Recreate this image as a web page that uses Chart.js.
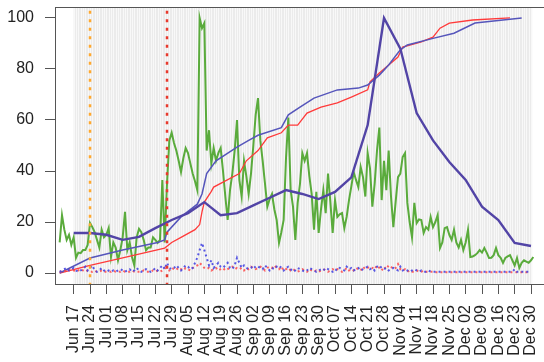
<!DOCTYPE html>
<html>
<head>
<meta charset="utf-8">
<script src="https://cdn.jsdelivr.net/npm/chart.js@4.4.1/dist/chart.umd.min.js"></script>
<style>
  html, body { margin: 0; padding: 0; background: #fff; }
  .marco { width: 544px; height: 362px; overflow: hidden; }
</style>
</head>
<body>
<div class="marco"><canvas class="grafico" width="556" height="362"></canvas></div>
<script>
// dias contados desde Jun 17 (dia 0); las series diarias empiezan en Jun 11
const primerDia = -6;
const etiquetasSemana = ["Jun 17","Jun 24","Jul 01","Jul 08","Jul 15","Jul 22","Jul 29","Aug 05","Aug 12","Aug 19","Aug 26","Sep 02","Sep 09","Sep 16","Sep 23","Sep 30","Oct 07","Oct 14","Oct 21","Oct 28","Nov 04","Nov 11","Nov 18","Nov 25","Dec 02","Dec 09","Dec 16","Dec 23","Dec 30"];
const ticksY = [0, 20, 40, 60, 80, 100];
const diasMarcados = [7, 40]; // Jun 24 y Jul 27

const diario = [
  12, 22.7, 17, 13, 15, 11, 14,
  6, 8, 7.8, 9, 9, 11, 19.6,
  18, 16, 13, 10, 17, 14, 15,
  17.6, 6.3, 12, 10, 5, 9, 14,
  24, 9, 12, 6.3, 3, 14, 17.3,
  16, 13, 9, 10, 10, 14, 13,
  11.8, 13, 36.5, 12, 35, 52, 55,
  51, 48, 44, 39.6, 45, 49, 47,
  43, 39, 36, 32.5, 100, 96, 98,
  48, 56, 43, 49, 44, 47, 49,
  40, 30, 20.8, 32.5, 39, 48, 60,
  36.5, 30, 44, 38, 31, 39, 50,
  62, 68.6, 52, 44, 35, 26, 29,
  31, 25, 20.8, 11.8, 16, 20.8, 45,
  61, 32.5, 26, 13, 27.5, 35, 47,
  44, 47, 38, 31, 17, 31.8, 15.7,
  25, 32.5, 23.5, 39, 28, 15.7, 28.6,
  22, 23, 23.5, 17.6, 22, 28.6, 34,
  39.6, 36.5, 33.7, 41.6, 37.6, 30, 47,
  41, 26, 35, 48, 57, 28.6, 44,
  32.5, 48, 30, 18, 28, 37.6, 39,
  45.5, 47, 27.5, 20, 14, 27.5, 19.6,
  21, 20.8, 15.7, 18, 17, 22, 18,
  20, 22.7, 9.8, 12, 17.6, 18, 15,
  13, 17, 12, 10, 13, 9, 12,
  17, 6.3, 6.5, 7, 7.8, 9, 8,
  9.8, 8, 5.9, 6, 7, 9.8, 7,
  6, 4, 5.9, 6.5, 7, 5, 3,
  5.9, 2, 4, 5, 4.5, 4, 5,
  6.3
];

const diarioAzul = [
  0.5, 1, 1.5, 2, 1, 1.5, 2,
  1, 0.5, 1, 1.5, 2.5, 1, 2,
  3, 1, 0.5, 1, 2, 1, 0.5,
  1, 0.5, 1, 0.5, 1, 1.5, 1,
  0.5, 1, 1.5, 0.5, 1, 2, 1,
  0.5, 1, 1.5, 1, 0.5, 1, 2,
  1, 2, 3, 1.5, 4, 2, 1.5,
  2, 3, 2, 1, 2, 3, 2.5,
  1.5, 2, 4, 6, 9, 11.8, 9,
  6, 3, 5, 2, 3, 4, 2.5,
  2, 3, 4, 2, 1.5, 3, 6,
  4, 2, 3, 2, 1.5, 2, 3,
  2, 2.5, 2, 1.5, 3, 2, 1,
  2, 1.5, 2.5, 3, 2, 1, 2,
  2.5, 1.5, 0.5, 1, 2, 1.5, 1,
  0.5, 1, 2, 1.5, 1, 0.5, 1,
  1.5, 1, 2, 1.5, 1, 0.5, 1.5,
  1, 2, 1.5, 1, 2.5, 1.5, 2,
  1, 1.5, 2, 1, 1.5, 2, 2.5,
  1.5, 2, 1, 2.5, 3, 2, 1.5,
  2, 1, 1.5, 2, 1.5, 1, 2.5,
  1, 1.5, 1, 0.5, 1, 1.5, 1,
  0.5, 1, 0.5, 0.5, 1, 0.5, 0.5,
  0.5, 0.5, 0.5, 0.5, 0.5, 0.5, 0.5,
  0.5, 0.5, 0.5, 0.5, 0.5, 0.5, 0.5,
  0.5, 0.5, 0.5, 0.5, 0.5, 0.5, 0.5,
  0.5, 0.5, 0.5, 0.5, 0.5, 0.5, 0.5,
  0.5, 0.5, 0.5, 0.5, 0.5, 0.5, 1.5,
  0.5, 0.5, 0.5, 0.5, 0.5, 0.5
];

const diarioRojo = [
  0.5, 0.5, 1, 0.5, 1, 1.5, 1,
  0.5, 1, 1.5, 1, 0.5, 1, 0.5,
  0.5, 1, 0.5, 0.5, 1, 0.5, 0.5,
  0.5, 0.5, 1, 0.5, 0.5, 0.5, 1,
  0.5, 0.5, 0.5, 1, 0.5, 0.5, 0.5,
  0.5, 1, 0.5, 0.5, 0.5, 1, 0.5,
  1, 0.5, 1, 2, 1.5, 1, 2,
  1.5, 2, 1, 1.5, 1, 2, 1.5,
  1, 2, 2.5, 3, 4, 3, 2,
  1.5, 2, 1, 1.5, 2, 1, 1.5,
  2, 1, 1.5, 2, 2.5, 1.5, 2,
  1.5, 2, 1, 2, 1.5, 2.5, 2,
  1.5, 2, 2.5, 2, 1, 2, 2.5,
  2, 3, 2, 1.5, 2.5, 1, 1.5,
  2, 1, 1.5, 1, 0.5, 1, 1.5,
  1, 0.5, 1.5, 1, 0.5, 1, 0.5,
  1, 1.5, 1, 0.5, 1, 1.5, 1,
  1.5, 1, 0.5, 1, 2, 1, 1.5,
  1, 2, 1.5, 1, 2.5, 1.5, 2,
  2.5, 2, 1.5, 3, 2, 1, 2.5,
  1.5, 3, 2.5, 1.5, 2, 3.5, 1.5,
  1, 1.5, 0.5, 1, 0.5, 0.5, 1,
  0.5, 0.5, 1, 0.5, 0.5, 0.5, 0.5,
  0.3, 0.3, 0.3, 0.3, 0.3, 0.3, 0.3,
  0.3, 0.3, 0.3, 0.3, 0.3, 0.3, 0.3,
  0.3, 0.3, 0.3, 0.3, 0.3, 0.3, 0.3,
  0.3, 0.3, 0.3, 0.3, 0.3, 0.3, 0.3,
  0.3, 0.3, 0.3, 0.3, 0.3, 0.3, 0.3,
  0.3, 0.3, 0.3, 0.3, 0.3, 0.3
];

const diasAcumRojo = [-6, 7, 21, 39, 40, 42, 46, 52, 54, 55, 56, 59, 60, 71, 74, 79, 83, 89, 92, 96, 100, 106, 113, 119, 126, 127, 131, 135, 139, 141, 149, 154, 157, 161, 171, 187];
const acumRojo = [0, 3, 5.9, 9.8, 10.5, 12, 14, 17, 19, 24, 27.8, 32, 33.7, 39, 44, 48, 53, 55, 58, 58, 62.7, 65, 66.7, 69, 71.8, 75, 78.4, 81.6, 84.7, 88.6, 90.6, 92.5, 96, 98, 99.2, 100];
const diasAcumAzul = [-6, 7, 21, 36, 39, 40, 46, 53, 55, 57, 61, 70, 75, 79, 89, 92, 97, 103, 113, 122, 126, 131, 135, 140, 143, 154, 163, 172, 192];
const acumAzul = [0, 5.9, 9, 12, 13, 16, 22, 27, 31, 39, 44, 49.4, 52, 54, 57, 62, 65, 68.6, 71.8, 72.5, 73.7, 77.6, 81.6, 87.5, 89.4, 92, 94, 98, 100];

// serie semanal (una por etiqueta)
const semanal = [15.7, 15.7, 15, 13, 14.2, 17.6, 20.8, 23.5, 27.8, 22.7, 23.5, 26.5, 29.5, 32.5, 31, 29, 31.8, 37.5, 58, 100, 88, 62.7, 52, 43.5, 36.5, 26, 20.8, 11.8, 10.6];

const canvas = document.querySelector(".grafico");
const porDia = (arr) => arr.map((v, i) => ({ x: primerDia + i, y: v }));
const pares = (xs, ys) => xs.map((d, i) => ({ x: d, y: ys[i] }));
const linea = (d) => [{ x: d, y: -5 }, { x: d, y: 110 }];

const fondo = {
  id: "fondo",
  beforeDatasetsDraw(chart) {
    const { ctx, chartArea: a, scales: { x } } = chart;
    const x0 = x.getPixelForValue(0);
    const x1 = x.getPixelForValue(196.5);
    ctx.save();
    ctx.fillStyle = "#ebebeb";
    ctx.fillRect(x0, a.top, x1 - x0, a.bottom - a.top);
    ctx.strokeStyle = "#f8f8f8";
    ctx.lineWidth = 1;
    ctx.beginPath();
    for (let d = 0; d <= 196; d++) {
      const px = Math.round(x.getPixelForValue(d)) + 0.5;
      ctx.moveTo(px, a.top);
      ctx.lineTo(px, a.bottom);
    }
    ctx.stroke();
    ctx.restore();
  },
  afterDraw(chart) {
    const { ctx, chartArea: a } = chart;
    ctx.save();
    ctx.strokeStyle = "#555";
    ctx.lineWidth = 1;
    ctx.strokeRect(a.left + 0.5, a.top + 0.5, a.right - a.left, a.bottom - a.top);
    ctx.restore();
  }
};

Chart.defaults.font.family = "'Liberation Sans', Arial, sans-serif";
Chart.defaults.font.size = 16;
Chart.defaults.color = "#222";

const config = {
  type: "line",
  data: {
    datasets: [
      { data: linea(diasMarcados[0]), borderColor: "#ffa82e", borderWidth: 2.5, borderDash: [3, 5.5] },
      { data: linea(diasMarcados[1]), borderColor: "#e8392c", borderWidth: 2.5, borderDash: [3, 5.5] },
      { data: porDia(diarioAzul), borderColor: "rgba(70,70,225,0.9)", borderWidth: 2, borderDash: [2, 3] },
      { data: porDia(diarioRojo), borderColor: "rgba(255,70,70,0.85)", borderWidth: 2, borderDash: [2, 3] },
      { data: semanal.map((v, i) => ({ x: i * 7, y: v })), borderColor: "#5244a6", borderWidth: 2.4 },
      { data: pares(diasAcumAzul, acumAzul), borderColor: "#5555bb", borderWidth: 1.5 },
      { data: pares(diasAcumRojo, acumRojo), borderColor: "#ff3a3a", borderWidth: 1.3 },
      { data: porDia(diario), borderColor: "#5aab3c", borderWidth: 2 }
    ]
  },
  options: {
    responsive: false,
    animation: false,
    devicePixelRatio: 1,
    layout: { padding: { top: 7, right: 11, left: 0, bottom: 0 } },
    elements: { point: { radius: 0 }, line: { tension: 0 } },
    plugins: { legend: { display: false }, tooltip: { enabled: false } },
    scales: {
      x: {
        type: "linear",
        min: -8,
        max: 202,
        afterBuildTicks: (s) => { s.ticks = etiquetasSemana.map((_, i) => ({ value: i * 7 })); },
        afterFit: (s) => { s.height = 78; s.paddingLeft = 0; s.paddingRight = 0; },
        grid: { drawOnChartArea: false, tickLength: 10, color: "#555" },
        border: { display: false },
        ticks: {
          autoSkip: false,
          minRotation: 90,
          maxRotation: 90,
          padding: 11,
          callback: (v, i) => etiquetasSemana[i]
        }
      },
      y: {
        type: "linear",
        min: -4.3,
        max: 104.3,
        afterBuildTicks: (s) => { s.ticks = ticksY.map((v) => ({ value: v })); },
        afterFit: (s) => { s.width = 55; s.paddingTop = 0; s.paddingBottom = 0; },
        grid: { drawOnChartArea: false, tickLength: 10, color: "#555" },
        border: { display: false },
        ticks: { padding: 11 }
      }
    }
  },
  plugins: [fondo]
};

new Chart(canvas, config);
</script>
</body>
</html>
